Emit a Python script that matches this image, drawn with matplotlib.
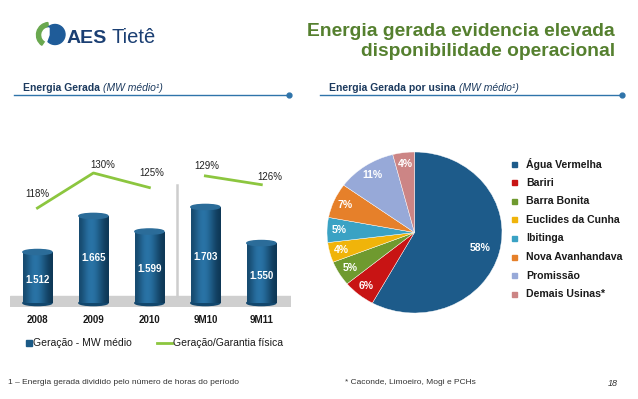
import numpy as np
import matplotlib
matplotlib.use("Agg")
import matplotlib.pyplot as plt
from matplotlib.patches import Rectangle, Ellipse, Wedge, Circle
from matplotlib.lines import Line2D

plt.rcParams['font.family'] = ['Liberation Sans', 'DejaVu Sans']

# Dados - grafico de barras
periodos = ['2008', '2009', '2010', '9M10', '9M11']
geracao = [1512, 1665, 1599, 1703, 1550]
geracao_txt = ['1.512', '1.665', '1.599', '1.703', '1.550']
garantia = [118, 130, 125, 129, 126]

# Dados - pizza
usinas = ['Água Vermelha', 'Bariri', 'Barra Bonita', 'Euclides da Cunha',
          'Ibitinga', 'Nova Avanhandava', 'Promissão', 'Demais Usinas*']
participacao = [58, 6, 5, 4, 5, 7, 11, 4]
cores_pizza = ['#1d5b8a', '#c81414', '#6f9a2f', '#f0b40a',
               '#3aa2c4', '#e6802a', '#97a9d8', '#cc8585']

W, H = 638, 399
fig = plt.figure(figsize=(W / 100, H / 100), dpi=100)
fig.patch.set_facecolor('white')

def fx(px):
    return px / W

def fy(py):
    return 1 - py / H

navy = '#1c3a5e'
azul_linha = '#2f74aa'
verde_titulo = '#55802f'
verde_linha = '#8cc63f'
azul_barra = '#1b5a86'

# Titulo
fig.text(fx(615), fy(31), 'Energia gerada evidencia elevada', ha='right', va='center',
         fontsize=13.9, fontweight='bold', color=verde_titulo)
fig.text(fx(615), fy(52), 'disponibilidade operacional', ha='right', va='center',
         fontsize=13.9, fontweight='bold', color=verde_titulo)

# Logo
lax = fig.add_axes([fx(35), fy(47), fx(32), 1 - fy(26)])
lax.set_xlim(0, 32)
lax.set_ylim(0, 26)
lax.set_aspect('equal')
lax.axis('off')
lax.add_patch(Wedge((14, 12), 12.5, 95, 235, width=6, color='#6aa84f'))
lax.add_patch(Circle((20, 12.5), 10, color='#1f5c99'))
lax.add_patch(Wedge((14, 12), 7, 90, 250, color='white'))
fig.text(fx(67), fy(43), 'AES', ha='left', va='baseline', fontsize=14,
         fontweight='bold', color='#1b3f73')
fig.text(fx(111), fy(43), 'Tietê', ha='left', va='baseline', fontsize=14.5,
         color='#1b3f73')

# Cabecalhos das secoes
def cabecalho(x0, x1, negrito, italico):
    t = fig.text(fx(x0 + 9), fy(88), negrito, ha='left', va='center',
                 fontsize=7.5, fontweight='bold', color=navy)
    fig.canvas.draw()
    bb = t.get_window_extent()
    fig.text(bb.x1 / W + fx(3), fy(88), italico, ha='left', va='center',
             fontsize=7.5, style='italic', color=navy)
    fig.add_artist(Line2D([fx(x0), fx(x1)], [fy(95), fy(95)], color=azul_linha, lw=1))
    fig.add_artist(Line2D([fx(x1)], [fy(95)], marker='o', ms=3.5, color=azul_linha))

cabecalho(14, 289, 'Energia Gerada', '(MW médio¹)')
cabecalho(320, 622, 'Energia Gerada por usina', '(MW médio¹)')

# Grafico de barras
ax = fig.add_axes([fx(10), fy(307), fx(291 - 10), 1 - fy(307 - 140)])
x = np.arange(len(periodos))
base = 1296
ax.axis('off')
ax.axhspan(1279, 1326, color='#cfcfcf', zorder=0)
ax.plot([2.5, 2.5], [1326, 1796], color='#cdcdcd', lw=1.8, zorder=1)

largura = 0.52
alturas = [g - base for g in geracao]
barras = ax.bar(x, alturas, largura, bottom=base, color=azul_barra, zorder=2)
grad = np.array([[0.55, 0.75, 0.95, 1.0, 0.9, 0.7, 0.5, 0.35]])
cmap_cil = matplotlib.colors.LinearSegmentedColormap.from_list('cil', ['#0c3350', '#2a75a8'])
for b in barras:
    x0, w = b.get_x(), b.get_width()
    y0, h = b.get_y(), b.get_height()
    im = ax.imshow(grad, extent=(x0, x0 + w, y0, y0 + h), aspect='auto',
                   cmap=cmap_cil, vmin=0.3, vmax=1.0,
                   interpolation='bicubic', zorder=3)
    im.set_clip_path(b)
    ax.add_patch(Ellipse((x0 + w / 2, y0 + h), w, 22, color='#2b6c99', zorder=4))
    ax.add_patch(Ellipse((x0 + w / 2, y0), w, 22, color='#12476d', zorder=1.5))
ax.set_xlim(-0.49, 4.53)
ax.set_ylim(1279, 1987)

pos_txt = [0.45, 0.52, 0.48, 0.48, 0.45]
for i, (g, t) in enumerate(zip(geracao, geracao_txt)):
    ax.text(x[i], base + (g - base) * pos_txt[i], t, ha='center', va='center',
            fontsize=7, fontweight='bold', color='white', zorder=6)

ax2 = ax.twinx()
ax2.set_ylim(84.1, 141.3)
ax2.axis('off')
ax2.plot(x[:3], garantia[:3], color=verde_linha, lw=2)
ax2.plot(x[3:], garantia[3:], color=verde_linha, lw=2)
desloc = [(0, 14), (9, 8), (2, 15), (1, 10), (8, 8)]
for i, v in enumerate(garantia):
    ax2.annotate(f'{v}%', (x[i], v), xytext=desloc[i], textcoords='offset pixels',
                 ha='center', va='center', fontsize=7, color='#222222')

for i, p in enumerate(periodos):
    fig.text(fx(37.5 + 56 * i), fy(320), p, ha='center', va='center',
             fontsize=7, fontweight='bold', color='#1a1a1a')

# Legenda do grafico de barras
fig.add_artist(Rectangle((fx(26), fy(346)), fx(6), 1 - fy(6), color=azul_barra))
fig.text(fx(33), fy(343), 'Geração - MW médio', ha='left', va='center',
         fontsize=7.5, color='#1a1a1a')
fig.add_artist(Line2D([fx(157), fx(172)], [fy(343), fy(343)], color=verde_linha, lw=2))
fig.text(fx(173), fy(343), 'Geração/Garantia física', ha='left', va='center',
         fontsize=7.5, color='#1a1a1a')

# Grafico de pizza (levemente achatado como no original)
cx, cy, rx, ry = 414.5, 232.5, 87.5, 80.5
pax = fig.add_axes([fx(cx - rx * 1.05), fy(cy + ry * 1.05), fx(2 * rx * 1.05), 1 - fy(2 * ry * 1.05)])
fatias, _ = pax.pie(participacao, colors=cores_pizza, startangle=90,
                    counterclock=False, radius=1,
                    wedgeprops=dict(edgecolor='white', linewidth=0.3))
pax.set_xlim(-1.05, 1.05)
pax.set_ylim(-1.05, 1.05)
pax.set_aspect('auto')
for w, v in zip(fatias, participacao):
    ang = np.deg2rad((w.theta1 + w.theta2) / 2)
    d = 0.78 if v > 20 else 0.86
    pax.text(d * np.cos(ang), d * np.sin(ang), f'{v}%', ha='center', va='center',
             fontsize=7.5, color='white', fontweight='bold')

for i, (u, c) in enumerate(zip(usinas, cores_pizza)):
    yy = 164 + 18.6 * i
    fig.add_artist(Rectangle((fx(512), fy(yy + 2.5)), fx(5), 1 - fy(5), color=c))
    fig.text(fx(526), fy(yy), u, ha='left', va='center', fontsize=7.6,
             fontweight='bold', color='#1a1a1a')

# Rodape
fig.text(fx(8), fy(383), '1 – Energia gerada dividido pelo número de horas do período',
         ha='left', va='center', fontsize=6, color='#333333')
fig.text(fx(345), fy(383), '* Caconde, Limoeiro, Mogi e PCHs',
         ha='left', va='center', fontsize=6, color='#333333')
fig.text(fx(618), fy(383), '18', ha='right', va='center', fontsize=6.5,
         style='italic', color='#333333')

fig.savefig('out.png', dpi=100)
